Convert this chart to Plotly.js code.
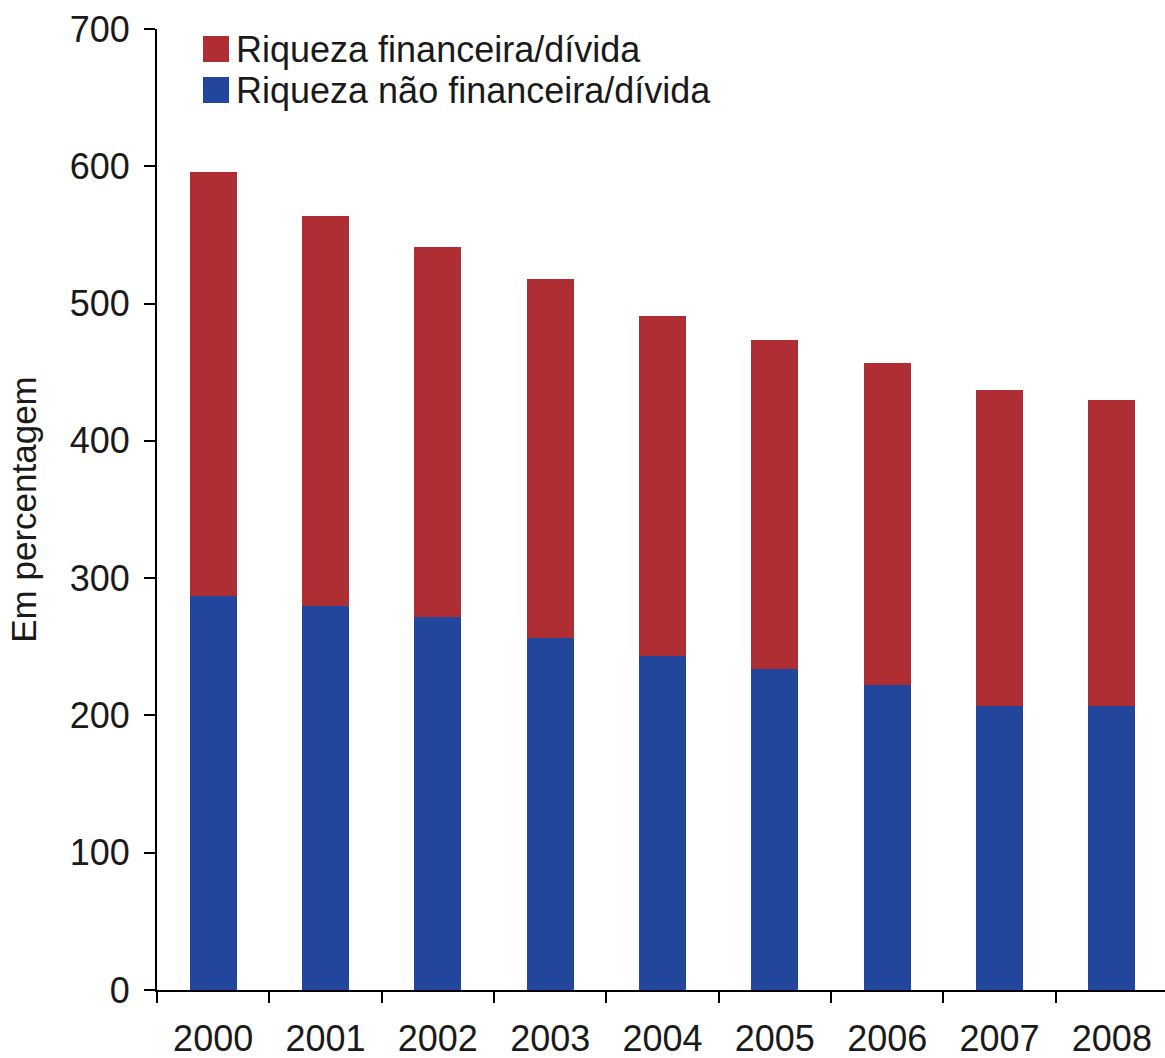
<!DOCTYPE html>
<html>
<head>
<meta charset="utf-8">
<script src="https://cdn.plot.ly/plotly-3.0.1.min.js"></script>
<style>
  html, body { margin: 0; padding: 0; background: #ffffff; }
  #chart { width: 1165px; height: 1058px; }
</style>
</head>
<body>
<div id="chart"></div>
<script>
// Data
var years = ['2000', '2001', '2002', '2003', '2004', '2005', '2006', '2007', '2008'];
var naoFinanceira = [287, 279.5, 271.5, 256.5, 243.5, 233.5, 222, 207, 207];      // blue, bottom
var financeira    = [309, 284, 269.5, 261.5, 247.5, 240, 234.5, 230, 222.5];     // red, stacked on top
var seriesNames = ['Riqueza financeira/dívida', 'Riqueza não financeira/dívida'];
var yTicks = [0, 100, 200, 300, 400, 500, 600, 700];
var yTitle = 'Em percentagem';

var RED = '#AF2E33';
var BLUE = '#21469B';
var FONT = 'Liberation Sans, Arial, Helvetica, sans-serif';

var traces = [
  {
    type: 'bar', name: seriesNames[1], x: years, y: naoFinanceira,
    marker: { color: BLUE, line: { width: 0 } }, showlegend: false
  },
  {
    type: 'bar', name: seriesNames[0], x: years, y: financeira,
    marker: { color: RED, line: { width: 0 } }, showlegend: false
  }
];

// Custom legend (large squares like the reference)
var legendItems = [
  { name: seriesNames[0], color: RED, yc: 49 },
  { name: seriesNames[1], color: BLUE, yc: 90 }
];
var shapes = [];
var annotations = [];
legendItems.forEach(function (it) {
  shapes.push({
    type: 'rect', xref: 'paper', yref: 'paper',
    x0: (203 - 157) / 1008, x1: (229 - 157) / 1008,
    y0: (990 - (it.yc + 13)) / 961, y1: (990 - (it.yc - 13)) / 961,
    fillcolor: it.color, line: { width: 0 }
  });
  annotations.push({
    xref: 'paper', yref: 'paper', xanchor: 'left', yanchor: 'middle',
    x: (234 - 157) / 1008, y: (990 - it.yc) / 961,
    text: it.name, showarrow: false,
    font: { family: FONT, size: 36, color: '#1a1a1a' }
  });
});

var layout = {
  width: 1165, height: 1058,
  margin: { l: 157, r: 0, t: 29, b: 68, pad: 0 },
  paper_bgcolor: '#ffffff', plot_bgcolor: '#ffffff',
  barmode: 'stack', bargap: 0.58,
  showlegend: false,
  font: { family: FONT, size: 36, color: '#1a1a1a' },
  xaxis: {
    type: 'category', range: [-0.5, 8.473],
    showline: true, linecolor: '#000', linewidth: 2,
    ticks: 'outside', tickson: 'boundaries', ticklen: 11, tickwidth: 2, tickcolor: '#000',
    showgrid: false, zeroline: false,
    tickfont: { family: FONT, size: 36, color: '#1a1a1a' },
    ticklabelstandoff: 16
  },
  yaxis: {
    range: [0, 700], tickvals: yTicks, ticktext: yTicks.map(String),
    showline: true, linecolor: '#000', linewidth: 2,
    ticks: 'outside', ticklen: 11, tickwidth: 2, tickcolor: '#000',
    showgrid: false, zeroline: false,
    tickfont: { family: FONT, size: 36, color: '#1a1a1a' },
    ticklabelstandoff: 7,
    title: { text: yTitle, font: { family: FONT, size: 35, color: '#1a1a1a' }, standoff: 22 }
  },
  shapes: shapes,
  annotations: annotations
};

Plotly.newPlot('chart', traces, layout, { displayModeBar: false, staticPlot: true });
</script>
</body>
</html>
